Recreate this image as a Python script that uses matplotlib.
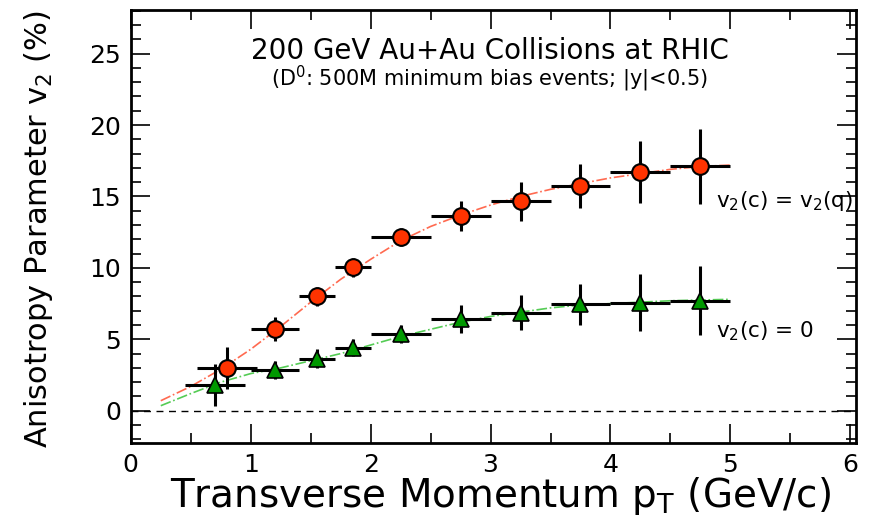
import matplotlib
matplotlib.use("Agg")
import matplotlib.pyplot as plt
from matplotlib.ticker import MultipleLocator

plt.rcParams['font.family'] = ['DejaVu Sans']
plt.rcParams['mathtext.fontset'] = 'dejavusans'

# D0 v2 with v2(c) = v2(q)
pt = [0.80, 1.20, 1.55, 1.85, 2.25, 2.75, 3.25, 3.75, 4.25, 4.75]
pt_lo = [0.25, 0.20, 0.15, 0.15, 0.25, 0.25, 0.25, 0.25, 0.25, 0.25]
pt_hi = [0.25, 0.20, 0.15, 0.15, 0.25, 0.25, 0.25, 0.25, 0.25, 0.25]
v2_red = [3.0, 5.7, 8.0, 10.05, 12.15, 13.6, 14.65, 15.7, 16.7, 17.1]
err_red = [1.45, 0.85, 0.68, 0.66, 0.64, 1.05, 1.34, 1.54, 2.18, 2.6]

# D0 v2 with v2(c) = 0
pt_g = [0.70, 1.20, 1.55, 1.85, 2.25, 2.75, 3.25, 3.75, 4.25, 4.75]
ptg_lo = [0.25, 0.20, 0.15, 0.15, 0.25, 0.25, 0.25, 0.25, 0.25, 0.25]
ptg_hi = [0.25, 0.20, 0.15, 0.15, 0.25, 0.25, 0.25, 0.25, 0.25, 0.25]
v2_green = [1.8, 2.85, 3.65, 4.4, 5.4, 6.4, 6.85, 7.45, 7.55, 7.7]
err_green = [1.46, 0.6, 0.64, 0.6, 0.63, 0.98, 1.22, 1.42, 2.0, 2.4]

# model curves
curve_pt = [0.25, 0.5, 0.75, 1.0, 1.25, 1.5, 1.75, 2.0, 2.25, 2.5,
            2.75, 3.0, 3.25, 3.5, 3.75, 4.0, 4.25, 4.5, 4.75, 5.0]
curve_red = [0.7, 1.7, 2.9, 4.3, 5.9, 7.6, 9.2, 10.6, 11.9, 12.9,
             13.7, 14.4, 15.0, 15.5, 15.9, 16.3, 16.6, 16.9, 17.1, 17.2]
curve_green = [0.35, 1.2, 2.0, 2.6, 3.0, 3.5, 4.0, 4.6, 5.2, 5.7,
               6.2, 6.6, 6.9, 7.2, 7.4, 7.5, 7.6, 7.7, 7.75, 7.8]

fig = plt.figure(figsize=(8.72, 5.31), dpi=100)
ax = fig.add_axes([0.150, 0.166, 0.832, 0.815])

ax.axhline(0, color='black', lw=1, ls=(0, (5, 4)))
ax.plot(curve_pt, curve_red, color='#ff6a50', lw=1.2, ls='-.')
ax.plot(curve_pt, curve_green, color='#55cc55', lw=1.2, ls='-.')

ax.errorbar(pt, v2_red, xerr=[pt_lo, pt_hi], yerr=err_red, fmt='o',
            ms=12, mfc='#ff3300', mec='black', mew=1.5,
            ecolor='black', elinewidth=2.2, capsize=0, zorder=3)
ax.errorbar(pt_g, v2_green, xerr=[ptg_lo, ptg_hi], yerr=err_green, fmt='^',
            ms=11, mfc='#009900', mec='black', mew=1.2,
            ecolor='black', elinewidth=2.2, capsize=0, zorder=3)

ax.set_xlim(0, 6.05)
ax.set_ylim(-2.25, 28.05)
ax.xaxis.set_major_locator(MultipleLocator(1))
ax.xaxis.set_minor_locator(MultipleLocator(0.5))
ax.yaxis.set_major_locator(MultipleLocator(5))
ax.yaxis.set_minor_locator(MultipleLocator(1))
ax.tick_params(which='both', direction='in', top=True, right=True,
               labelsize=18, width=1.2)
ax.tick_params(which='major', length=14, pad=7)
ax.tick_params(which='minor', length=7)
for s in ax.spines.values():
    s.set_linewidth(2)

ax.set_xlabel('Transverse Momentum p$_\\mathregular{T}$ (GeV/c)', fontsize=28)
ax.xaxis.set_label_coords(0.51, -0.075)
ax.set_ylabel('Anisotropy Parameter v$_\\mathregular{2}$ (%)', fontsize=22)
ax.yaxis.set_label_coords(-0.105, 0.495)

ax.text(0.495, 0.905, '200 GeV Au+Au Collisions at RHIC', transform=ax.transAxes,
        ha='center', va='center', fontsize=20)
ax.text(0.495, 0.84, '(D$^\\mathregular{0}$: 500M minimum bias events; |y|<0.5)',
        transform=ax.transAxes, ha='center', va='center', fontsize=15)
ax.text(4.88, 14.7, 'v$_\\mathregular{2}$(c) = v$_\\mathregular{2}$(q)', fontsize=15.5,
        ha='left', va='center')
ax.text(4.88, 5.6, 'v$_\\mathregular{2}$(c) = 0', fontsize=15.5, ha='left', va='center')

fig.savefig('out.png', dpi=100)
